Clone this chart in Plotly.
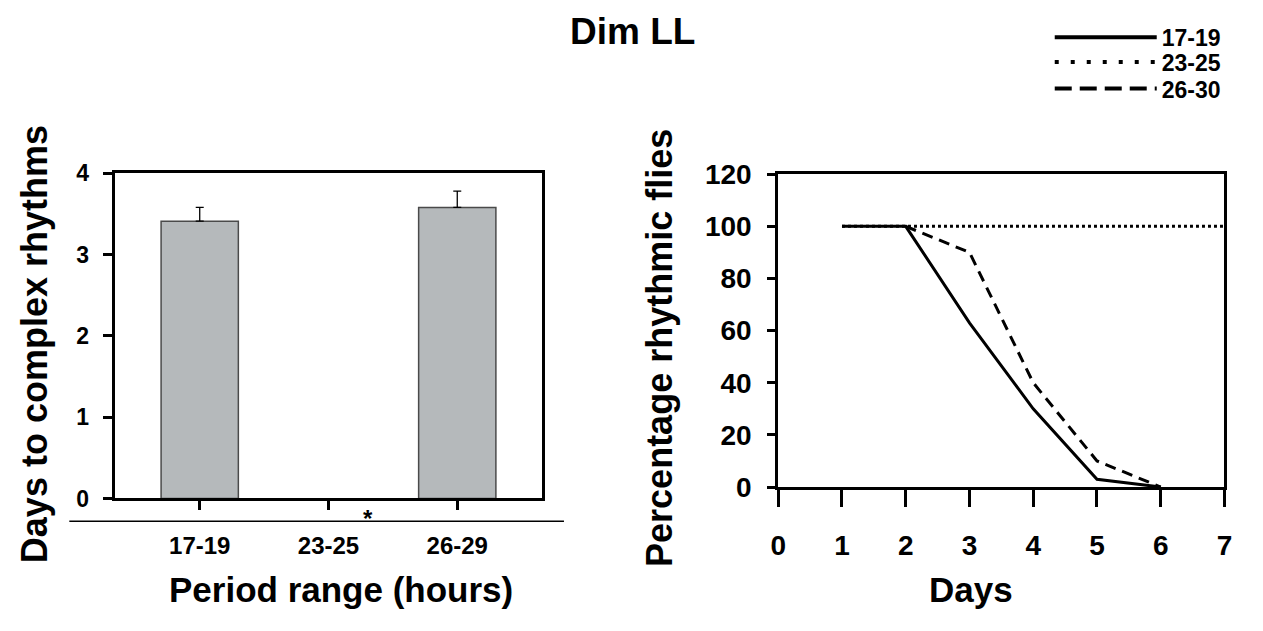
import plotly.graph_objects as go

# ---- data ----
period_ranges = ["17-19", "23-25", "26-29"]
days_to_complex = [3.41, None, 3.58]
days_err = [0.17, None, 0.20]

days = [1, 2, 3, 4, 5, 6, 7]
pct_17_19 = [100, 100, 63, 30, 3, 0, None]
pct_23_25 = [100, 100, 100, 100, 100, 100, 100]
pct_26_30 = [None, 100, 90, 40, 10, 0, None]
series_names = ["17-19", "23-25", "26-30"]

W, H = 1263, 631
OFF = 8  # page body margin
FONT = "Liberation Sans, Arial, sans-serif"


def X(p):
    return (p - OFF) / W


def Y(p):
    return 1 - (p - OFF) / H


solid = dict(color="black", width=3)
dotted = dict(color="black", width=3, dash="3px,3px")
dashed = dict(color="black", width=3, dash="11px,7px")

fig = go.Figure()

fig.add_trace(go.Bar(
    x=[0, 1, 2], y=days_to_complex, width=0.6,
    marker=dict(color="#b5b9bb", line=dict(color="#4a4a4a", width=1.5)),
    error_y=dict(type="data", array=days_err, arrayminus=[0, 0, 0], symmetric=False,
                 color="black", thickness=1.3, width=4),
    xaxis="x", yaxis="y", showlegend=False,
))

fig.add_trace(go.Scatter(x=days, y=pct_23_25, mode="lines", line=dotted,
                         xaxis="x2", yaxis="y2", showlegend=False))
fig.add_trace(go.Scatter(x=days, y=pct_26_30, mode="lines", line=dashed,
                         xaxis="x2", yaxis="y2", showlegend=False))
fig.add_trace(go.Scatter(x=days, y=pct_17_19, mode="lines", line=solid,
                         xaxis="x2", yaxis="y2", showlegend=False))

# legend entries (key samples only, no data drawn)
legend_styles = [dict(color="black", width=4),
                 dict(color="black", width=4, dash="4px,12px"),
                 dict(color="black", width=4, dash="17px,8px")]
for name, style, lg in zip(series_names, legend_styles, ["legend", "legend2", "legend3"]):
    fig.add_trace(go.Scatter(x=[None], y=[None], mode="lines", name=name, line=style,
                             legend=lg, xaxis="x2", yaxis="y2", showlegend=True))

axis_common = dict(showline=True, linecolor="black", linewidth=3, mirror=True,
                   ticks="outside", tickcolor="black", tickwidth=3,
                   showgrid=False, zeroline=False, fixedrange=True)

legend_common = dict(xanchor="left", yanchor="middle", font=dict(size=23, weight="bold"),
                     itemwidth=102, bgcolor="rgba(0,0,0,0)", borderwidth=0)

fig.update_layout(
    width=W, height=H,
    margin=dict(l=0, r=0, t=0, b=0),
    paper_bgcolor="white", plot_bgcolor="white",
    font=dict(family=FONT, color="black"),
    xaxis=dict(domain=[X(108), X(541)], range=[-0.66, 2.66],
               tickvals=[0, 1, 2], ticktext=period_ranges, ticklen=9,
               ticklabelstandoff=15,
               tickfont=dict(size=24, weight="bold"), anchor="y", **axis_common),
    yaxis=dict(domain=[Y(508), Y(166)], range=[0, 4], dtick=1, ticklen=9,
               ticklabelstandoff=9,
               tickfont=dict(size=23, weight="bold"), anchor="x", **axis_common),
    xaxis2=dict(domain=[X(780), X(1232)], range=[0, 7], dtick=1, ticklen=17,
                ticklabelstandoff=14,
                tickfont=dict(size=28, weight="bold"), anchor="y2", **axis_common),
    yaxis2=dict(domain=[Y(496), Y(167)], range=[0, 120], dtick=20, ticklen=8,
                ticklabelstandoff=10,
                tickfont=dict(size=28, weight="bold"), anchor="x2", **axis_common),
    legend=dict(x=X(1055), y=Y(23), **legend_common),
    legend2=dict(x=X(1055), y=Y(49), **legend_common),
    legend3=dict(x=X(1055), y=Y(77), **legend_common),
    showlegend=True,
)

annotations = [
    dict(text="<b>Dim LL</b>", x=X(632), y=Y(17), font=dict(size=37)),
    dict(text="<b>Days to complex rhythms</b>", x=X(27), y=Y(346), textangle=-90,
         font=dict(size=36)),
    dict(text="<b>Period range (hours)</b>", x=X(337), y=Y(604), font=dict(size=35)),
    dict(text="<b>Percentage rhythmic flies</b>", x=X(659), y=Y(350), textangle=-90,
         font=dict(size=36)),
    dict(text="<b>Days</b>", x=X(975), y=Y(604), font=dict(size=35)),
    dict(text="<b>*</b>", x=X(365), y=Y(529), font=dict(size=24)),
]
for a in annotations:
    a.update(xref="paper", yref="paper", showarrow=False, xanchor="center", yanchor="middle")
fig.update_layout(annotations=annotations)

fig.add_shape(type="line", xref="paper", yref="paper",
              x0=X(62), x1=X(563), y0=Y(532), y1=Y(532),
              line=dict(color="black", width=1.5))

fig.write_html("out.html")
